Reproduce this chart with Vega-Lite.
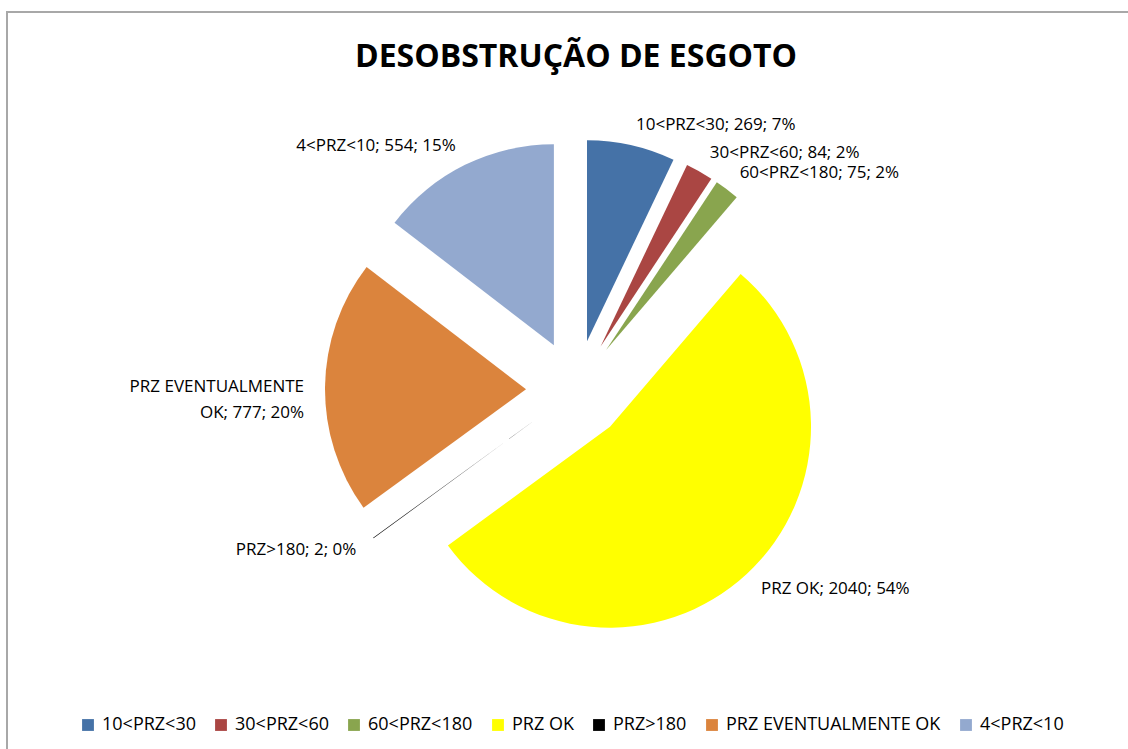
{
  "$schema": "https://vega.github.io/schema/vega-lite/v6.json",
  "width": 1138,
  "height": 756,
  "autosize": {"type": "none"},
  "padding": {"left": 7, "top": 12, "right": -17, "bottom": -19},
  "background": "white",
  "config": {
    "view": {"stroke": "#a8a8a8", "strokeWidth": 2},
    "font": "Open Sans"
  },
  "title": {
    "text": "DESOBSTRUÇÃO DE ESGOTO",
    "font": "Open Sans",
    "fontSize": 32,
    "fontWeight": 700,
    "color": "#000000",
    "anchor": "middle",
    "frame": "group",
    "orient": "top",
    "offset": -62
  },
  "data": {
    "values": [
      {"faixa": "10<PRZ<30", "qtd": 269, "rotulo": "10<PRZ<30; 269; 7%"},
      {"faixa": "30<PRZ<60", "qtd": 84, "rotulo": "30<PRZ<60; 84; 2%"},
      {"faixa": "60<PRZ<180", "qtd": 75, "rotulo": "60<PRZ<180; 75; 2%"},
      {"faixa": "PRZ OK", "qtd": 2040, "rotulo": "PRZ OK; 2040; 54%"},
      {"faixa": "PRZ>180", "qtd": 2, "rotulo": "PRZ>180; 2; 0%"},
      {"faixa": "PRZ EVENTUALMENTE OK", "qtd": 777, "rotulo": "PRZ EVENTUALMENTE\nOK; 777; 20%"},
      {"faixa": "4<PRZ<10", "qtd": 554, "rotulo": "4<PRZ<10; 554; 15%"}
    ]
  },
  "transform": [{"window": [{"op": "row_number", "as": "ordem"}]}],
  "encoding": {
    "theta": {"field": "qtd", "type": "quantitative", "stack": true},
    "order": {"field": "ordem", "type": "quantitative"}
  },
  "layer": [
    {
      "mark": {"type": "arc", "radius": 201},
      "encoding": {
        "x": {"value": {"expr": "width/2 + 50*sin((scale('theta', datum.qtd_start) + scale('theta', datum.qtd_end))/2)"}},
        "y": {"value": {"expr": "height/2 - 50*cos((scale('theta', datum.qtd_start) + scale('theta', datum.qtd_end))/2)"}},
        "color": {
          "field": "faixa",
          "type": "nominal",
          "scale": {
            "domain": ["10<PRZ<30", "30<PRZ<60", "60<PRZ<180", "PRZ OK", "PRZ>180", "PRZ EVENTUALMENTE OK", "4<PRZ<10"],
            "range": ["#4572A7", "#AA4643", "#89A54E", "#FFFF00", "#000000", "#DB843D", "#93A9CF"]
          },
          "legend": {
            "title": null,
            "orient": "none",
            "legendX": 72,
            "legendY": 704,
            "direction": "horizontal",
            "symbolType": "square",
            "symbolSize": 140,
            "symbolStrokeWidth": 0,
            "labelFont": "Open Sans",
            "labelFontSize": 18,
            "labelColor": "#000000",
            "labelLimit": 0,
            "labelOffset": 5,
            "columnPadding": 16
          }
        }
      }
    },
    {
      "mark": {
        "type": "text",
        "radius": 272,
        "font": "Open Sans",
        "fontSize": 17,
        "baseline": "middle",
        "lineBreak": "\n",
        "lineHeight": 26,
        "align": {"expr": "(scale('theta', datum.qtd_start) + scale('theta', datum.qtd_end))/2 > PI ? 'right' : 'left'"}
      },
      "encoding": {
        "text": {"field": "rotulo"},
        "detail": {"field": "faixa"},
        "color": {"value": "#000000"}
      }
    }
  ]
}
